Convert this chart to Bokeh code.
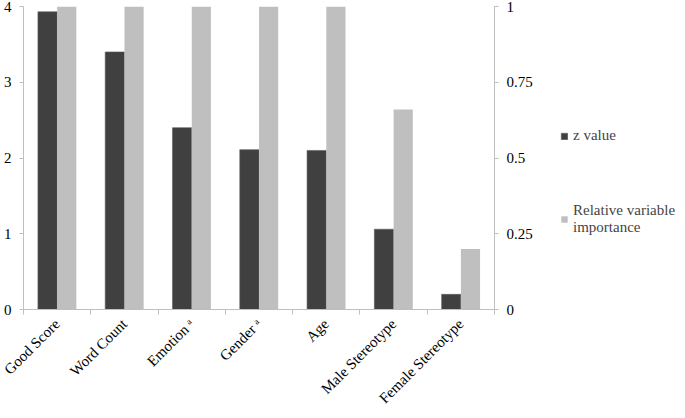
from math import pi
from bokeh.plotting import figure
from bokeh.layouts import row
from bokeh.models import (Range1d, LinearAxis, FixedTicker, Legend, LegendItem,
                          ColumnDataSource)
from bokeh.embed import file_html
from bokeh.resources import INLINE

categories = ["Good Score", "Word Count", "Emotion \u1d43", "Gender \u1d43", "Age",
              "Male Stereotype", "Female Stereotype"]
z_value = [3.93, 3.40, 2.40, 2.11, 2.10, 1.06, 0.20]
rel_importance = [1.0, 1.0, 1.0, 1.0, 1.0, 0.66, 0.20]
left_ticks = [0, 1, 2, 3, 4]
right_ticks = [0, 0.25, 0.5, 0.75, 1]
right_tick_labels = ["0", "0.25", "0.5", "0.75", "1"]
series_names = ["z value", "Relative variable\nimportance"]

FONT = "Liberation Serif"
DARK = "#404040"
LIGHT = "#bfbfbf"
AXIS = "#bfbfbf"

n = len(categories)
centers = [i + 0.5 for i in range(n)]
src = ColumnDataSource(dict(
    xz=[c - 0.143 for c in centers],
    xr=[c + 0.143 for c in centers],
    z=z_value, r=rel_importance))

p = figure(frame_width=471, frame_height=303, output_backend="svg", toolbar_location=None,
           x_range=Range1d(0, n), y_range=Range1d(0, 4),
           min_border_left=20, min_border_right=0, min_border_top=6, min_border_bottom=0)
p.extra_y_ranges = {"rvi": Range1d(0, 1)}
p.outline_line_color = None
p.grid.visible = False

rz = p.vbar(x="xz", top="z", width=0.285, source=src, fill_color=DARK,
            line_color="#5a5a5a", line_width=0.6)
rr = p.vbar(x="xr", top="r", width=0.285, source=src, fill_color=LIGHT,
            line_color=None, y_range_name="rvi")

def style(ax):
    ax.axis_line_color = AXIS
    ax.major_tick_line_color = AXIS
    ax.minor_tick_line_color = AXIS
    ax.major_label_text_font = FONT
    ax.major_label_text_font_size = "15px"
    ax.major_label_text_color = "#000000"

# x axis
xa = p.xaxis[0]
xa.ticker = FixedTicker(ticks=centers, minor_ticks=list(range(n + 1)))
xa.major_label_overrides = {c: lab for c, lab in zip(centers, categories)}
style(xa)
xa.major_tick_line_color = None
xa.minor_tick_out = 5
xa.minor_tick_in = 0
xa.major_label_orientation = pi / 4
xa.major_label_standoff = 6

# left axis
ya = p.yaxis[0]
ya.ticker = FixedTicker(ticks=left_ticks, minor_ticks=[])
style(ya)
ya.major_tick_out = 4
ya.major_tick_in = 0
ya.major_label_standoff = 8

# right axis
ra = LinearAxis(y_range_name="rvi", ticker=FixedTicker(ticks=right_ticks, minor_ticks=[]))
ra.major_label_overrides = {t: l for t, l in zip(right_ticks, right_tick_labels)}
style(ra)
ra.major_tick_out = 4
ra.major_tick_in = 0
ra.major_label_standoff = 8
p.add_layout(ra, "right")

# legend panel (separate figure to the right); its two swatch renderers sit
# outside the visible range so only the legend swatches show
p2 = figure(frame_width=140, frame_height=303, output_backend="svg", toolbar_location=None,
            x_range=Range1d(0, 1), y_range=Range1d(0, 1),
            x_axis_location=None, y_axis_location=None,
            min_border_left=0, min_border_right=0, min_border_top=6, min_border_bottom=0)
p2.outline_line_color = None
p2.grid.visible = False
hidden = ColumnDataSource(dict(x=[5.0], top=[1.0]))
d1 = p2.vbar(x="x", top="top", width=0.1, source=hidden, fill_color=DARK,
             line_color="#5a5a5a", line_width=0.6)
d2 = p2.vbar(x="x", top="top", width=0.1, source=hidden, fill_color=LIGHT, line_color=None)

legend = Legend(items=[LegendItem(label=series_names[0], renderers=[d1]),
                       LegendItem(label=series_names[1], renderers=[d2])],
                location=(25, 73), orientation="vertical",
                border_line_color=None, background_fill_alpha=0,
                label_text_font=FONT, label_text_font_size="15px",
                label_text_line_height=1.45,
                glyph_width=8, glyph_height=8, spacing=58, margin=0, padding=0,
                label_standoff=5)
p2.add_layout(legend, "center")

layout = row(p, p2)
open("out.html", "w").write(file_html(layout, INLINE))
